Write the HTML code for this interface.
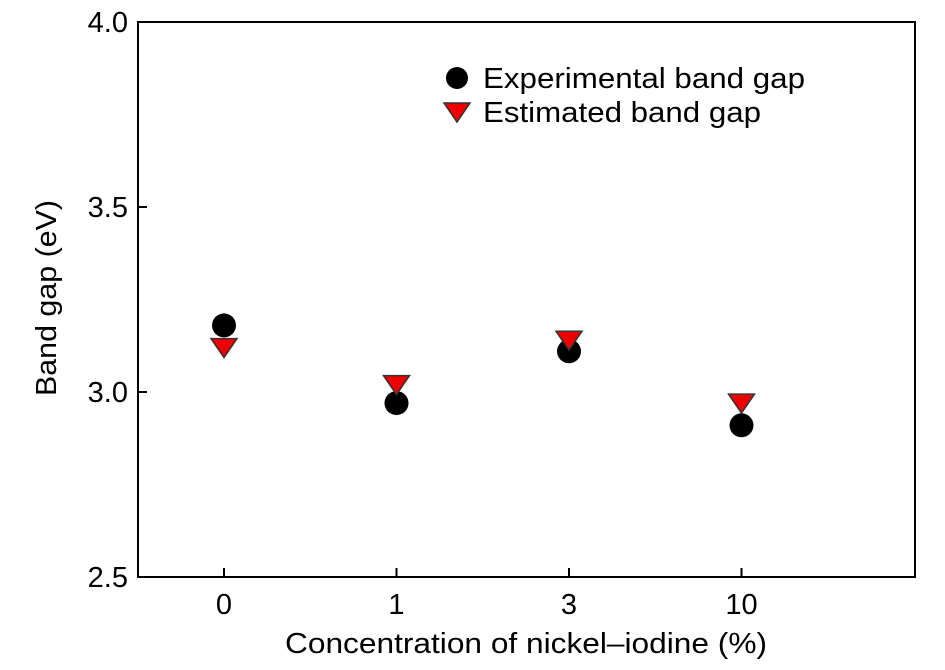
<!DOCTYPE html>
<html><head><meta charset="utf-8"><style>
body{margin:0;background:#fff;}
svg text{font-family:"Liberation Sans",sans-serif;fill:#000;}
</style></head><body>
<svg id="chart" width="945" height="665" xmlns="http://www.w3.org/2000/svg">
<rect x="138" y="22" width="777" height="555" fill="none" stroke="#000" stroke-width="2"/>
<g id="yaxis"></g>
<g id="xaxis"></g>
<g id="marks"></g>
<text transform="translate(56,298) rotate(-90)" text-anchor="middle" font-size="29" textLength="196" lengthAdjust="spacingAndGlyphs">Band gap (eV)</text>
<text x="526" y="653" text-anchor="middle" font-size="29" textLength="482" lengthAdjust="spacingAndGlyphs">Concentration of nickel–iodine (%)</text>
<g>
<circle cx="457" cy="78" r="11" fill="#000"/>
<text x="483" y="88" font-size="29" textLength="322" lengthAdjust="spacingAndGlyphs">Experimental band gap</text>
<polygon points="444,103 470,103 457,122" fill="#e00" stroke="#333" stroke-width="1.5"/>
<text x="483" y="122" font-size="29" textLength="278" lengthAdjust="spacingAndGlyphs">Estimated band gap</text>
</g>
</svg>
<script>
const categories=["0","1","3","10"];
const experimental=[3.18,2.97,3.11,2.91];
const estimated=[3.12,3.02,3.14,2.97];
const yTicks=[2.5,3.0,3.5,4.0];
const NS="http://www.w3.org/2000/svg";
function y(v){return 577-(v-2.5)/1.5*555;}
function x(i){return 224+i*172.5;}
function mk(t,a,p){const e=document.createElementNS(NS,t);for(const k in a)e.setAttribute(k,a[k]);p.appendChild(e);return e;}
const ya=document.getElementById('yaxis'),xa=document.getElementById('xaxis'),m=document.getElementById('marks');
yTicks.forEach(v=>{
 const l=mk('line',{x1:138,x2:147,y1:y(v),y2:y(v),stroke:'#000','stroke-width':2},ya);
 
 
 const t=mk('text',{x:128,y:y(v)+10,'text-anchor':'end','font-size':29},ya);
 
 
 t.textContent=v.toFixed(1);
});
categories.forEach((c,i)=>{
 const l=mk('line',{x1:x(i),x2:x(i),y1:577,y2:568,stroke:'#000','stroke-width':2},xa);
 
 
 const t=mk('text',{x:x(i),y:614,'text-anchor':'middle','font-size':29},xa);
 
 
 t.textContent=c;
});
categories.forEach((c,i)=>{
 const ci=mk('circle',{cx:x(i),cy:y(experimental[i]),r:12,fill:'#000'},m);
 
 
});
categories.forEach((c,i)=>{
 const cx=x(i),cy=y(estimated[i]);
 const p=mk('polygon',{points:`${cx-13},${cy-9} ${cx+13},${cy-9} ${cx},${cy+10}`,fill:'#e00',stroke:'#333','stroke-width':1.5},m);
 
 
});
</script>
</body></html>
